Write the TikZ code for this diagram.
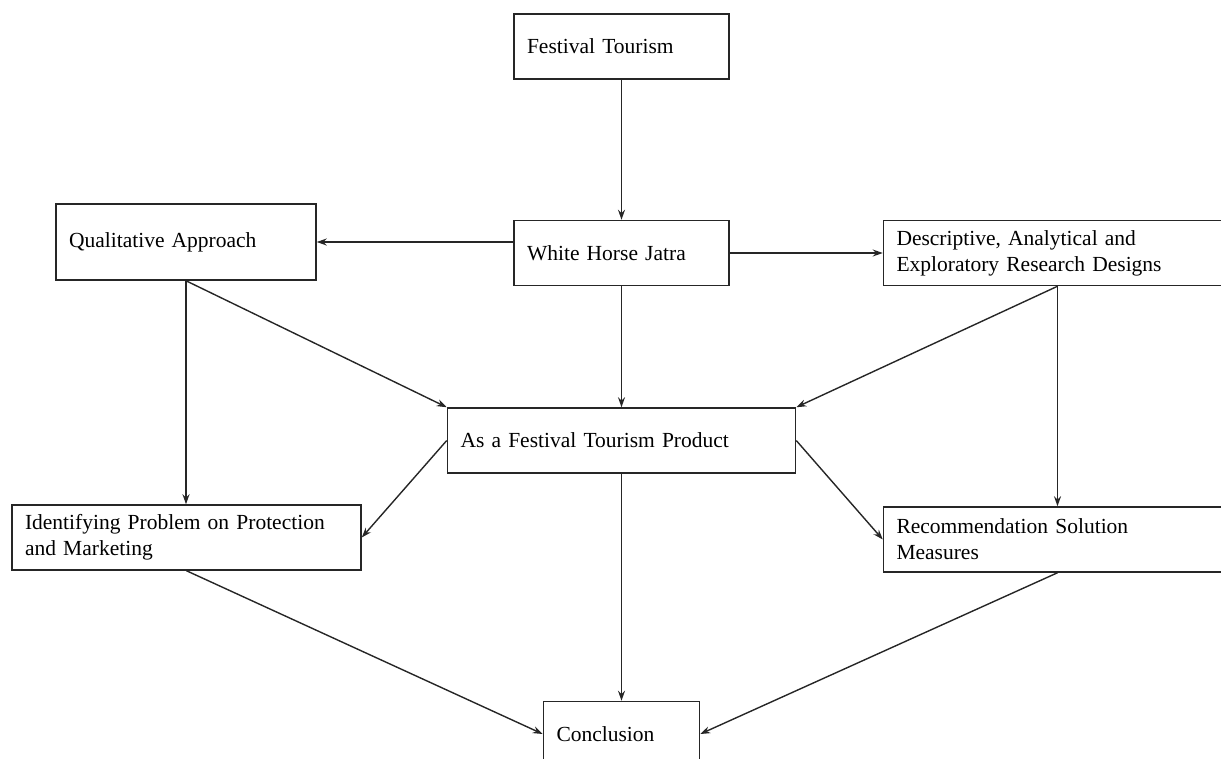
\documentclass[tikz,border=0pt]{standalone}
\usepackage{fontspec}
\setmainfont{Liberation Serif}
\usetikzlibrary{
	arrows.meta,
	positioning
}
\tikzset{
%Define standard arrow tip
>={Stealth[length=10pt,width=7pt]},
%Define style for boxes
boks/.style={
	rectangle,
	draw=black!85, line width=1.5pt,
	inner xsep=13pt, inner ysep=0pt,
	minimum height=65pt,
	align=left,
	font=\fontsize{21.5}{26}\selectfont},
% Define arrow style
linje/.style={
	->,
	line width=1.4pt,
	draw=black!85}
}

\begin{document}
\begin{tikzpicture}[x=1pt,y=1pt]
	\useasboundingbox (0,0) rectangle (1221,-758);
	\clip (0,0) rectangle (1221,-758);
	\node[boks, text width=189pt] (fest) at (621.5,-46.5) {Festival Tourism};
	\node[boks, text width=189pt, below=140pt of fest] (whj) {White Horse Jatra};
	\node[boks, text width=322pt, below=121pt of whj] (prod) {As a Festival Tourism Product};
	\node[boks, text width=130pt, below=227pt of prod] (concl) {Conclusion};
	\node[boks, text width=234pt, minimum height=76pt] (qual) at (186,-242) {Qualitative Approach};
	\node[boks, text width=322pt, right=153pt of whj] (desc) {Descriptive, Analytical and\\Exploratory Research Designs};
	\node[boks, text width=322pt, below=220pt of desc] (recom) {Recommendation Solution\\Measures};
	\node[boks, text width=323pt] (ident) at (186.5,-537.5) {Identifying Problem on Protection\\and Marketing};
	% connectors
	\draw[linje] (fest) -- (whj);
	\draw[linje] (whj.west |- qual.east) -- (qual.east);
	\draw[linje] (whj) -- (desc);
	\draw[linje] (whj) -- (prod);
	\draw[linje] (qual.south) -- (qual.south |- ident.north);
	\draw[linje] (qual.south) -- (prod.north west);
	\draw[linje] (desc.south) -- (prod.north east);
	\draw[linje] (desc) -- (recom);
	\draw[linje] (prod.west) -- (ident.east);
	\draw[linje] (prod.east) -- (recom.west);
	\draw[linje] (prod) -- (concl);
	\draw[linje] (ident.south) -- (concl.west);
	\draw[linje] (recom.south) -- (concl.east);
\end{tikzpicture}
\end{document}
